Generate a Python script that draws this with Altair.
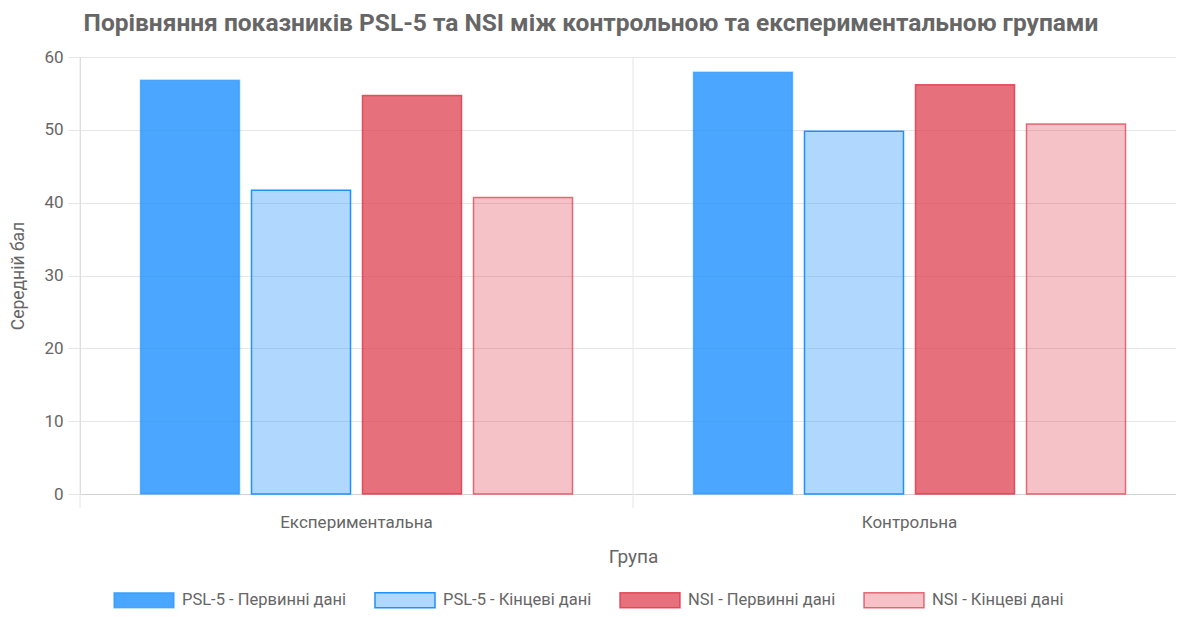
import altair as alt
import pandas as pd

groups = ["Експериментальна", "Контрольна"]
series = ["PSL-5 - Первинні дані", "PSL-5 - Кінцеві дані", "NSI - Первинні дані", "NSI - Кінцеві дані"]
exp_values = [56.8, 41.7, 54.7, 40.7]
ctrl_values = [57.9, 49.8, 56.2, 50.8]

fills = ["rgba(30,144,255,0.8)", "rgba(30,144,255,0.35)", "rgba(220,53,69,0.7)", "rgba(220,53,69,0.3)"]
strokes = ["rgba(30,144,255,0.55)", "rgba(30,144,255,1)", "rgba(220,53,69,0.8)", "rgba(220,53,69,0.7)"]

rows = []
for g, vals in zip(groups, [exp_values, ctrl_values]):
    for s, v in zip(series, vals):
        rows.append({"group": g, "series": s, "value": v})
df = pd.DataFrame(rows)
grid_df = pd.DataFrame({"group": groups})

FONT = "Roboto"
GREY = "#666666"
W, H = 1096, 437
XRANGE = 1106

xscale = alt.Scale(domain=groups, paddingInner=0, paddingOuter=0, range=[0, XRANGE])

bars = alt.Chart(df).mark_bar(strokeWidth=1.5).encode(
    x=alt.X("group:N", scale=xscale, sort=groups, title="Група",
            axis=alt.Axis(labelAngle=0, labelAlign="center", labelColor=GREY, labelFontSize=17,
                          labelFont=FONT, labelPadding=28, tickSize=0, ticks=False, grid=False,
                          domainColor="#d4d4d4", titleColor=GREY, titleFontSize=19,
                          titleFont=FONT, titleFontWeight="normal", titlePadding=17)),
    xOffset=alt.XOffset("series:N", sort=series,
                        scale=alt.Scale(domain=series, paddingInner=0.108, paddingOuter=0.545)),
    y=alt.Y("value:Q", scale=alt.Scale(domain=[0, 60], nice=False), title="Середній бал",
            axis=alt.Axis(values=[0, 10, 20, 30, 40, 50, 60], labelColor=GREY, labelFontSize=17,
                          labelFont=FONT, gridColor="#e6e6e6", tickColor="#e6e6e6", tickSize=12,
                          labelPadding=5, domainColor="#d4d4d4", titleColor=GREY,
                          titleFontSize=17.5, titleFont=FONT, titleFontWeight="normal",
                          titlePadding=16)),
    fill=alt.Fill("series:N", sort=series, scale=alt.Scale(domain=series, range=fills),
                  legend=alt.Legend(title=None)),
    stroke=alt.Stroke("series:N", sort=series, scale=alt.Scale(domain=series, range=strokes),
                      legend=alt.Legend(title=None)),
)

vgrid = alt.Chart(grid_df).mark_rule(color="#e6e6e6", strokeWidth=1).encode(
    x=alt.X("group:N", scale=xscale, sort=groups, bandPosition=0),
    y=alt.value(0),
    y2=alt.value(H + 14),
)

chart = alt.layer(vgrid, bars).properties(
    width=W, height=H,
    title=alt.TitleParams(
        "Порівняння показників PSL-5 та NSI між контрольною та експериментальною групами",
        fontSize=24.5, font=FONT, fontWeight="bold", color=GREY, anchor="middle",
        frame="bounds", offset=12, dx=-7),
    autosize=alt.AutoSizeParams(type="none"),
    padding={"left": 72, "top": 49, "right": 0, "bottom": 115},
).configure_view(stroke=None).configure_legend(
    orient="none", legendX=33, legendY=512, direction="horizontal",
    labelFont=FONT, labelFontSize=16.5, labelColor=GREY,
    symbolType="M-1,-0.25L1,-0.25L1,0.25L-1,0.25Z", symbolSize=3600, symbolStrokeWidth=1.5,
    labelOffset=7, columnPadding=25, labelLimit=300,
)

chart.save("out.html", embed_options={"renderer": "svg", "actions": False})
